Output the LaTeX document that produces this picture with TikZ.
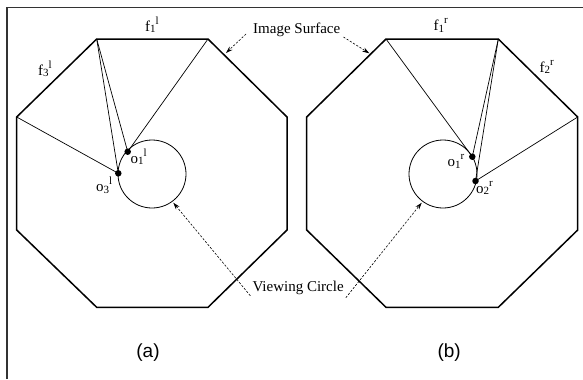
\documentclass[tikz,border=0pt]{standalone}
\usepackage{fontspec}
\setmainfont{Liberation Serif}
\setsansfont{Liberation Sans}
\usetikzlibrary{arrows.meta}
\newcommand\sbsp[3]{#1\raisebox{-1.5bp}{\fontsize{11bp}{11bp}\selectfont #2}\raisebox{7bp}{\fontsize{11bp}{11bp}\selectfont #3}}
\tikzset{
  oct/.style={line width=1.5bp, line join=miter},
  ray/.style={line width=0.7bp},
  vc/.style={line width=0.8bp},
  pt/.style={circle, fill=black, inner sep=0pt, minimum size=6.5bp},
  lbl/.style={anchor=base west, inner sep=0pt, font=\fontsize{15bp}{17bp}\selectfont},
  subcap/.style={anchor=base, inner sep=0pt, font=\sffamily\fontsize{19bp}{21bp}\selectfont},
  callout/.style={line width=0.6bp, dash pattern=on 2.2bp off 1.6bp, -{Stealth[length=7bp,width=4.5bp]}}
}
\begin{document}
\begin{tikzpicture}[x=1bp,y=-1bp]
\useasboundingbox (0,0) rectangle (583,379);
% frame
\draw[line width=1.6bp, black!80] (6.7,379) -- (6.7,7.3) -- (583,7.3);
% left octagon
\coordinate (LA) at (96.7,39);
\coordinate (LB) at (208,39);
\coordinate (LC) at (287,117);
\coordinate (LD) at (287,230);
\coordinate (LE) at (208,307.3);
\coordinate (LF) at (96.7,307.3);
\coordinate (LG) at (16.7,230);
\coordinate (LH) at (16.7,117);
\draw[oct] (LA) -- (LB) -- (LC) -- (LD) -- (LE) -- (LF) -- (LG) -- (LH) -- cycle;
\coordinate (LO) at (152,174);
\draw[vc] (LO) circle[radius=34];
\node[pt] (lo1) at (127.7,151.7) {};
\node[pt] (lo3) at (118.3,173.3) {};
\draw[ray] (LA) -- (lo1.center);
\draw[ray] (LA) -- (lo3.center);
\draw[ray] (LB) -- (lo1.center);
\draw[ray] (LH) -- (lo3.center);
% right octagon
\coordinate (RA) at (386,39);
\coordinate (RB) at (498.3,39);
\coordinate (RC) at (577.7,117);
\coordinate (RD) at (577.7,230);
\coordinate (RE) at (498.3,307.3);
\coordinate (RF) at (386,307.3);
\coordinate (RG) at (306.7,230);
\coordinate (RH) at (306.7,117);
\draw[oct] (RA) -- (RB) -- (RC) -- (RD) -- (RE) -- (RF) -- (RG) -- (RH) -- cycle;
\coordinate (RO) at (443,174);
\draw[vc] (RO) circle[radius=34];
\node[pt] (ro1) at (472.3,156.7) {};
\node[pt] (ro2) at (475.5,181) {};
\draw[ray] (RA) -- (ro1.center);
\draw[ray] (RB) -- (ro1.center);
\draw[ray] (RB) -- (ro2.center);
\draw[ray] (RC) -- (ro2.center);
% labels
\node[lbl] (f1l) at (145,31) {\sbsp{f}{1}{l}};
\node[lbl] (f3l) at (38,75) {\sbsp{f}{3}{l}};
\node[lbl] (o1l) at (130.5,163.3) {\sbsp{o}{1}{l}};
\node[lbl] (o3l) at (96,191.5) {\sbsp{o}{3}{l}};
\node[lbl] (f1r) at (433.3,30.5) {\sbsp{f}{1}{r}};
\node[lbl] (f2r) at (539.3,72) {\sbsp{f}{2}{r}};
\node[lbl] (o1r) at (447.3,166.7) {\sbsp{o}{1}{r}};
\node[lbl] (o2r) at (476,193) {\sbsp{o}{2}{r}};
\node[lbl] (is) at (253,33) {Image Surface};
\node[lbl] (vcirc) at (252.3,291.7) {Viewing Circle};
\node[subcap] (ca) at (148,357.5) {(a)};
\node[subcap] (cb) at (449.2,357.5) {(b)};
% callouts
\coordinate (isL) at (226,53);
\coordinate (isR) at (369.3,53.3);
\coordinate (vcL) at (173.3,202.7);
\coordinate (vcR) at (421.7,202.7);
\draw[callout] ([xshift=-7bp,yshift=-1bp]is.base west) -- (isL);
\draw[callout] ([xshift=3bp,yshift=-4bp]is.base east) -- (isR);
\draw[callout] ([xshift=-2bp,yshift=-4bp]vcirc.base west) -- (vcL);
\draw[callout] ([xshift=2bp,yshift=-6bp]vcirc.base east) -- (vcR);
\end{tikzpicture}
\end{document}
